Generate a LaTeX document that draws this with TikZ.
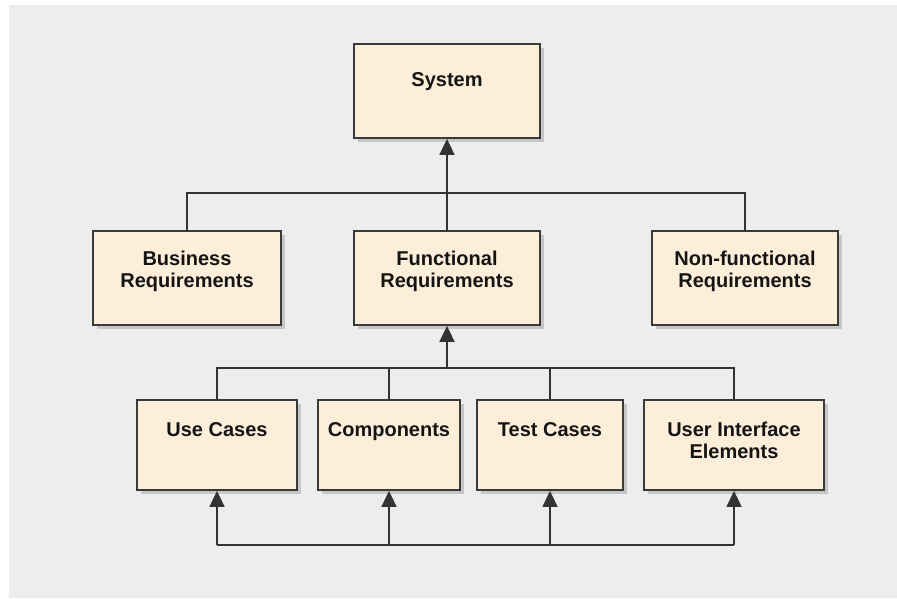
\documentclass[tikz,border=0pt]{standalone}
\usepackage{fontspec}
\setmainfont{Liberation Sans}
\usetikzlibrary{arrows.meta,shadows}
\definecolor{bg}{HTML}{EDEDED}
\definecolor{boxfill}{HTML}{FDEEDA}
\definecolor{boxline}{HTML}{3A3A3A}
\definecolor{conn}{HTML}{333333}
\tikzset{
  box/.style={draw=boxline, line width=1.8pt, fill=boxfill, inner sep=0pt,
    general shadow={fill=black!35, shadow xshift=4pt, shadow yshift=-4pt, opacity=0.55}},
  lbl/.style={font=\fontsize{20}{22}\selectfont\bfseries, align=center, inner sep=0pt, text=black!92},
  link/.style={draw=conn, line width=1.8pt},
  arr/.style={link, -{Triangle[length=16pt,width=15pt]}},
}
\begin{document}
\begin{tikzpicture}[x=1pt,y=-1pt]
\useasboundingbox (0,0) rectangle (897,598);
\fill[white] (0,0) rectangle (897,598);
\fill[bg] (9,5) rectangle (897,598);

% boxes
\node[box, minimum width=186pt, minimum height=94pt] (sys) at (447,91) {};
\node[box, minimum width=188pt, minimum height=94pt] (bus) at (187,278) {};
\node[box, minimum width=186pt, minimum height=94pt] (fun) at (447,278) {};
\node[box, minimum width=186pt, minimum height=94pt] (non) at (745,278) {};
\node[box, minimum width=160pt, minimum height=90pt] (use) at (217,445) {};
\node[box, minimum width=142pt, minimum height=90pt] (comp) at (389,445) {};
\node[box, minimum width=146pt, minimum height=90pt] (test) at (550,445) {};
\node[box, minimum width=180pt, minimum height=90pt] (ui) at (734,445) {};

% labels
\node[lbl, anchor=base] (sysT) at (447,86) {System};
\node[lbl] (busT) at (187,271) {Business\\Requirements};
\node[lbl] (funT) at (447,271) {Functional\\Requirements};
\node[lbl] (nonT) at (745,271) {Non-functional\\Requirements};
\node[lbl, anchor=base] (useT) at (217,436) {Use Cases};
\node[lbl, anchor=base] (compT) at (389,436) {Components};
\node[lbl, anchor=base] (testT) at (550,436) {Test Cases};
\node[lbl] (uiT) at (734,440) {User Interface\\Elements};

% connector levels
\coordinate (tl) at (447,193);
\coordinate (ml) at (447,368);
\coordinate (bl) at (447,545);

% top level
\draw[link] (bus.north) -- (bus.north |- tl) -- (non.north |- tl) -- (non.north);
\draw[arr] (fun.north) -- (sys.south);

% middle level
\draw[link] (use.north) -- (use.north |- ml) -- (ui.north |- ml) -- (ui.north);
\draw[link] (comp.north) -- (comp.north |- ml);
\draw[link] (test.north) -- (test.north |- ml);
\draw[arr] (fun.south |- ml) -- (fun.south);

% bottom level
\draw[link] (use.south |- bl) -- (ui.south |- bl);
\foreach \n in {use,comp,test,ui} {
  \draw[arr] (\n.south |- bl) -- (\n.south);
}
\end{tikzpicture}
\end{document}
